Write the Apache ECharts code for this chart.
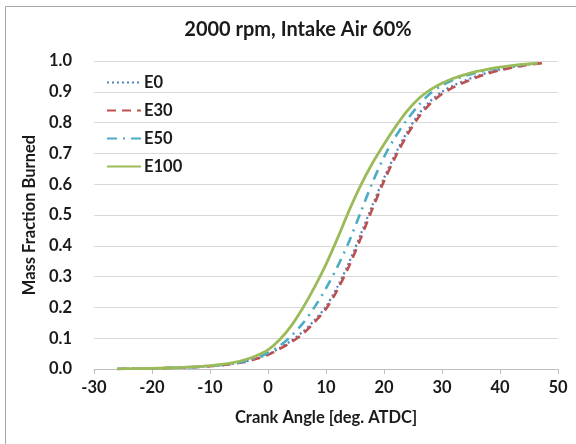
<!DOCTYPE html>
<html>
<head>
<meta charset="utf-8">
<script src="https://cdn.jsdelivr.net/npm/echarts@6/dist/echarts.min.js"></script>
<style>
html,body{margin:0;padding:0;background:#fff;}
#chart{width:576px;height:444px;}
</style>
</head>
<body>
<div id="chart"></div>
<script>
var seriesNames = ['E0', 'E30', 'E50', 'E100'];
var angles = [-26,-24,-22,-20,-18,-16,-14,-12,-10,-8,-6,-4,-2,0,2,4,6,8,10,12,14,16,18,20,22,24,26,28,30,32,34,36,38,40,42,44,46];
var e0   = [0,0.001,0.001,0.002,0.003,0.004,0.005,0.007,0.009,0.012,0.017,0.024,0.034,0.048,0.068,0.092,0.121,0.158,0.203,0.268,0.347,0.438,0.532,0.620,0.700,0.770,0.828,0.870,0.900,0.921,0.937,0.951,0.963,0.972,0.980,0.986,0.991];
var e30  = [0,0.001,0.001,0.002,0.003,0.004,0.005,0.007,0.009,0.012,0.017,0.023,0.033,0.046,0.065,0.087,0.114,0.152,0.195,0.258,0.335,0.425,0.520,0.610,0.690,0.760,0.818,0.862,0.893,0.915,0.932,0.947,0.960,0.970,0.978,0.985,0.990];
var e50  = [0,0.001,0.001,0.002,0.003,0.004,0.005,0.007,0.010,0.013,0.018,0.025,0.036,0.052,0.075,0.107,0.148,0.200,0.262,0.333,0.415,0.510,0.605,0.688,0.755,0.810,0.857,0.895,0.921,0.939,0.952,0.962,0.971,0.978,0.984,0.988,0.992];
var e100 = [0,0.001,0.001,0.002,0.003,0.004,0.006,0.008,0.011,0.015,0.021,0.030,0.043,0.062,0.095,0.140,0.198,0.265,0.340,0.425,0.515,0.597,0.668,0.730,0.787,0.838,0.878,0.907,0.928,0.944,0.956,0.966,0.974,0.980,0.985,0.989,0.992];
var endAngles = [46.8, 47.8, 46.4, 46.5];
var endValues = [0.993, 0.994, 0.993, 0.993];
var xTicks = [-30,-20,-10,0,10,20,30,40,50];
var yTicks = [0,0.1,0.2,0.3,0.4,0.5,0.6,0.7,0.8,0.9,1.0];

var colors = ['#4F81BD', '#C0504D', '#4BACC6', '#9BBB59'];
var lineTypes = [[2,3], [9,6], [10,6,2,6], 'solid'];
var widths = [2.2, 2.6, 2.6, 2.8];
var allValues = [e0, e30, e50, e100];
var font = 'Lato, "Open Sans", sans-serif';
var txt = '#1a1a1a';

function pairs(vals, i) {
  var d = angles.map(function (a, k) { return [a, vals[k]]; });
  d.push([endAngles[i], endValues[i]]);
  return d;
}

var chart = echarts.init(document.getElementById('chart'));
chart.setOption({
  backgroundColor: '#fff',
  animation: false,
  title: {
    text: '2000 rpm, Intake Air 60%',
    left: 293, top: 15, textAlign: 'center',
    textStyle: { fontFamily: font, fontWeight: 'bold', fontSize: 20, color: txt }
  },
  graphic: [{
    type: 'rect', shape: { x: 5.5, y: 6.5, width: 700, height: 600 },
    style: { fill: 'none', stroke: '#a6a6a6', lineWidth: 1 }, silent: true, z: -1
  }],
  legend: {
    orient: 'vertical', left: 101, top: 69,
    itemWidth: 34, itemHeight: 14, itemGap: 11,
    data: seriesNames,
    itemStyle: { opacity: 0 },
    textStyle: { fontFamily: font, fontWeight: 'bold', fontSize: 16.5, color: txt, padding: [0,0,0,-2] }
  },
  grid: { left: 94, right: 18, top: 61, bottom: 75 },
  xAxis: {
    type: 'value', min: xTicks[0], max: xTicks[xTicks.length - 1], interval: 10,
    name: 'Crank Angle [deg. ATDC]', nameLocation: 'middle', nameGap: 40,
    nameTextStyle: { fontFamily: font, fontWeight: 'bold', fontSize: 16.5, color: txt },
    axisLine: { show: true, lineStyle: { color: '#bfbfbf', width: 1 } },
    axisTick: { show: true, length: 5, lineStyle: { color: '#bfbfbf' } },
    axisLabel: { margin: 10, fontFamily: font, fontWeight: 'bold', fontSize: 16.5, color: txt },
    splitLine: { show: false }
  },
  yAxis: {
    type: 'value', min: yTicks[0], max: yTicks[yTicks.length - 1], interval: 0.1,
    name: 'Mass Fraction Burned', nameLocation: 'middle', nameGap: 51,
    nameTextStyle: { fontFamily: font, fontWeight: 'bold', fontSize: 16.5, color: txt },
    axisLine: { show: false }, axisTick: { show: false },
    axisLabel: { margin: 22, fontFamily: font, fontWeight: 'bold', fontSize: 16.5, color: txt,
      formatter: function (v) { return v.toFixed(1); } },
    splitLine: { show: true, lineStyle: { color: '#d9d9d9', width: 1 } }
  },
  series: seriesNames.map(function (n, i) {
    return {
      name: n, type: 'line', smooth: 0.3, symbol: 'none',
      data: pairs(allValues[i], i),
      itemStyle: { color: colors[i] },
      lineStyle: { color: colors[i], width: widths[i], type: lineTypes[i] },
      z: 2 + i
    };
  })
});
</script>
</body>
</html>
